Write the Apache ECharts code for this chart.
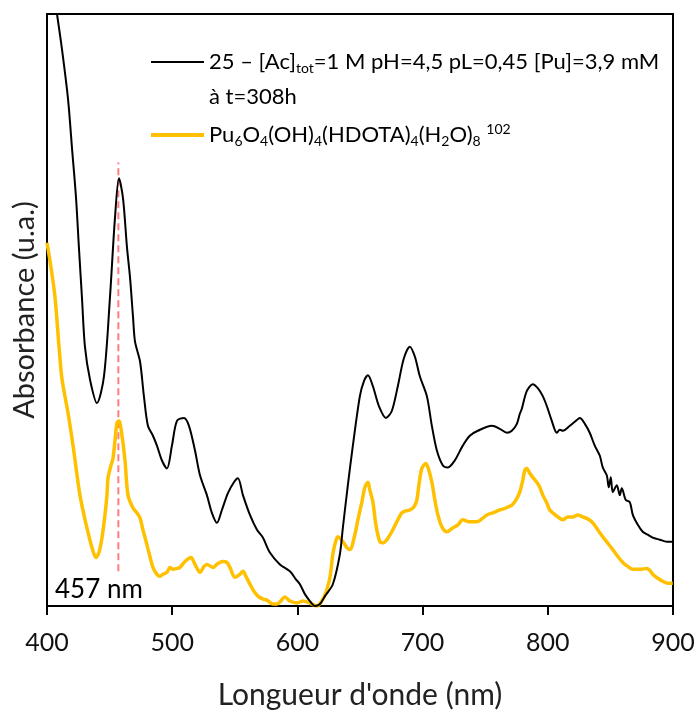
<!DOCTYPE html>
<html>
<head>
<meta charset="utf-8">
<script src="https://cdn.jsdelivr.net/npm/echarts@6/dist/echarts.min.js"></script>
<style>html,body{margin:0;padding:0;background:#fff}#c{width:699px;height:715px}</style>
</head>
<body>
<div id="c"></div>
<script>
// Wavelengths (nm) and absorbance (arbitrary units)
var blackX = [400,404,408,412,416.8,420,423.2,425.5,427.9,430.3,434.3,439.9,445.5,450.3,454.3,457.5,460.7,463.9,466.3,468.7,470.3,474.3,477.4,480.6,484.6,487.8,491.8,495.8,499.8,503.8,509.4,513.4,518.2,522.2,527.7,531.7,535.7,539.7,544.5,549.3,552.5,556.5,562.1,567.7,572.5,578,586,594,598.8,602,606,610,614,618,622,628.3,633.9,636.3,640.3,644.3,649.9,653.1,656.3,660.3,665.1,670.7,675.4,680.2,685,689.8,693.8,697.8,703.4,707.4,711.4,716.2,720.2,725.7,732.1,737.7,744.1,755.3,761.7,767.3,771.3,775.3,777.6,779.2,783.2,788,792,796,799.2,803.2,807.2,809.6,812,817.6,822.4,825.6,829.6,833.5,837.5,841.5,843.9,847.1,848.7,850.3,851.9,855.1,857.5,859.1,862.3,865.5,867.9,871.9,875.8,879.8,883.8,889.4,895,899.8];
var blackY = [6.8,6.35,5.98,5.62,5.12,4.62,4.12,3.62,3.12,2.62,2.29,2.05,2.32,3.12,3.92,4.32,4.12,3.62,3.32,2.92,2.67,2.47,2.12,1.82,1.72,1.62,1.47,1.39,1.62,1.87,1.90,1.82,1.57,1.32,1.12,0.94,0.84,0.97,1.14,1.25,1.29,1.12,0.92,0.77,0.69,0.54,0.42,0.35,0.27,0.22,0.12,0.05,0.00,0.02,0.10,0.22,0.52,0.79,1.22,1.62,2.12,2.27,2.33,2.22,2.02,1.90,1.97,2.22,2.50,2.62,2.52,2.32,2.12,1.82,1.57,1.42,1.40,1.47,1.62,1.72,1.77,1.82,1.79,1.75,1.77,1.84,1.94,1.99,2.17,2.24,2.20,2.12,2.02,1.87,1.75,1.78,1.77,1.82,1.87,1.90,1.84,1.75,1.62,1.52,1.40,1.32,1.20,1.30,1.15,1.22,1.12,1.19,1.07,1.05,0.92,0.82,0.75,0.72,0.69,0.67,0.65,0.65];

var orangeX = [400,403.2,406.4,409.6,412,416.8,420.8,424,426.3,429.5,431.9,435.9,439.1,441.5,443.9,446.3,447.9,448.7,451.1,452.7,454.3,455.9,457.5,459.9,462.3,464.7,468.7,471.9,474.3,476.6,479.8,482.2,484.6,487.8,490.2,492.6,495.8,498.2,500.6,503.8,506.2,510.2,515,518.2,522.2,525.4,527.7,532.5,536.5,540.5,543.7,546.1,550.1,554.1,556.5,558.9,562.1,565.3,568.5,572.5,575.6,580.4,583.6,586,590,594,599.6,604.4,610,615.6,620.4,623.6,626,628.3,629.9,632.3,636.3,639.5,641.9,645.9,648.3,651.5,653.9,656.3,657.9,660.3,662.7,665.9,669.1,671.5,675.4,679.4,683.4,686.6,689.8,693,695.4,697,699.4,702.6,705,707.4,709.8,712.2,715.4,719.4,724.2,728.2,732.1,737.7,743.3,747.3,751.3,756.1,761.7,766.5,771.3,774.5,777.6,780,781.6,783.2,785.6,788,791.2,793.6,796,799.2,801.6,804,808,812,816,819.9,823.9,827.9,831.9,835.1,838.3,841.5,846.3,851.9,855.9,859.9,863.9,867.9,873.5,879,881.4,883.8,887.8,891.8,895.8,899.8];
var orangeY = [3.67,3.42,3.12,2.62,2.29,1.95,1.62,1.32,1.12,0.92,0.79,0.59,0.49,0.54,0.69,0.92,1.12,1.29,1.42,1.49,1.67,1.85,1.87,1.72,1.47,1.12,0.99,0.94,0.89,0.77,0.62,0.50,0.39,0.32,0.30,0.32,0.34,0.39,0.37,0.38,0.39,0.45,0.49,0.42,0.34,0.40,0.42,0.39,0.43,0.45,0.44,0.39,0.29,0.32,0.35,0.30,0.22,0.15,0.10,0.07,0.06,0.02,0.02,0.04,0.09,0.05,0.03,0.05,0.03,0.00,0.07,0.17,0.29,0.52,0.62,0.70,0.65,0.59,0.57,0.72,0.87,1.05,1.20,1.25,1.17,1.05,0.82,0.65,0.64,0.67,0.75,0.85,0.94,0.96,0.97,1.00,1.07,1.22,1.39,1.44,1.37,1.25,1.07,0.92,0.80,0.75,0.79,0.82,0.87,0.85,0.85,0.88,0.92,0.94,0.97,0.99,1.02,1.07,1.15,1.27,1.37,1.39,1.34,1.30,1.25,1.20,1.12,1.04,0.97,0.94,0.90,0.87,0.90,0.90,0.92,0.90,0.88,0.85,0.80,0.74,0.66,0.57,0.50,0.44,0.40,0.37,0.37,0.38,0.36,0.32,0.28,0.25,0.23,0.23];

var markerX = [457, 457];
var markerY = [0.35, 4.48];

var xTicks = [400, 500, 600, 700, 800, 900];
var blackName = 'black';
var orangeName = 'orange';

function zip(a, b) { return a.map(function (v, i) { return [v, b[i]]; }); }

var FONT = 'Lato';
var chart = echarts.init(document.getElementById('c'), null, { renderer: 'canvas' });
chart.setOption({
  animation: false,
  backgroundColor: '#fff',
  textStyle: { fontFamily: FONT },
  grid: { left: 47, right: 26, top: 14, bottom: 103, show: true, borderColor: '#000', borderWidth: 2, backgroundColor: 'transparent' },
  legend: {
    orient: 'vertical', left: 146, top: 46,
    itemWidth: 53, itemHeight: 20, itemGap: 47,
    symbolKeepAspect: true,
    data: [
      { name: blackName, icon: 'path://M0,0H53V2H0Z' },
      { name: orangeName, icon: 'path://M0,0H53V4H0Z' }
    ],
    formatter: function (n) {
      if (n === blackName) return '{a|25 – [Ac]}{s|tot}{a|=1 M pH=4,5 pL=0,45 [Pu]=3,9 mM}';
      return '{a|Pu}{s|6}{a|O}{s|4}{a|(OH)}{s|4}{a|(HDOTA)}{s|4}{a|(H}{s|2}{a|O)}{s|8}{a| }{p|102}';
    },
    textStyle: {
      fontFamily: FONT, color: '#000',
      rich: {
        a: { fontSize: 22, lineHeight: 26, fontFamily: FONT, color: '#000', verticalAlign: 'middle' },
        s: { fontSize: 14, lineHeight: 26, fontFamily: FONT, color: '#000', verticalAlign: 'bottom' },
        p: { fontSize: 14, lineHeight: 26, fontFamily: FONT, color: '#000', verticalAlign: 'top' }
      }
    }
  },
  xAxis: {
    type: 'value', min: 400, max: 900, interval: 100,
    name: "Longueur d'onde (nm)", nameLocation: 'middle', nameGap: 74,
    nameTextStyle: { fontSize: 30, color: '#222', fontFamily: FONT },
    axisLine: { show: true, lineStyle: { color: '#000', width: 2 } },
    axisTick: { show: true, length: 9, lineStyle: { color: '#000', width: 2 } },
    axisLabel: { fontSize: 25, color: '#111', margin: 24, fontFamily: FONT,
      formatter: function (v) { return xTicks.indexOf(v) >= 0 ? String(v) : ''; } },
    splitLine: { show: false }
  },
  yAxis: {
    type: 'value', min: 0, max: 5.98,
    name: 'Absorbance (u.a.)', nameLocation: 'middle', nameGap: 8,
    nameTextStyle: { fontSize: 29, color: '#222', fontFamily: FONT },
    axisLine: { show: true, lineStyle: { color: '#000', width: 2 } },
    axisTick: { show: false }, axisLabel: { show: false }, splitLine: { show: false }
  },
  graphic: [
    { type: 'text', left: 209, top: 86, style: { text: 'à t=308h', fontSize: 22, fontFamily: FONT, fill: '#000' } },
    { type: 'text', left: 55, top: 577, style: { text: '457 nm', fontSize: 26, fontFamily: FONT, fill: '#000' } }
  ],
  series: [
    { name: 'marker', type: 'line', data: zip(markerX, markerY), symbol: 'none', silent: true,
      lineStyle: { color: '#FF7C80', width: 2, type: [7, 4] }, z: 1 },
    { name: orangeName, type: 'line', data: zip(orangeX, orangeY), symbol: 'none', smooth: 0.3,
      color: '#FFC000', lineStyle: { color: '#FFC000', width: 3.5 }, z: 2 },
    { name: blackName, type: 'line', data: zip(blackX, blackY), symbol: 'none', smooth: 0.3,
      color: '#000', lineStyle: { color: '#000', width: 2 }, z: 3 }
  ]
});
</script>
</body>
</html>
